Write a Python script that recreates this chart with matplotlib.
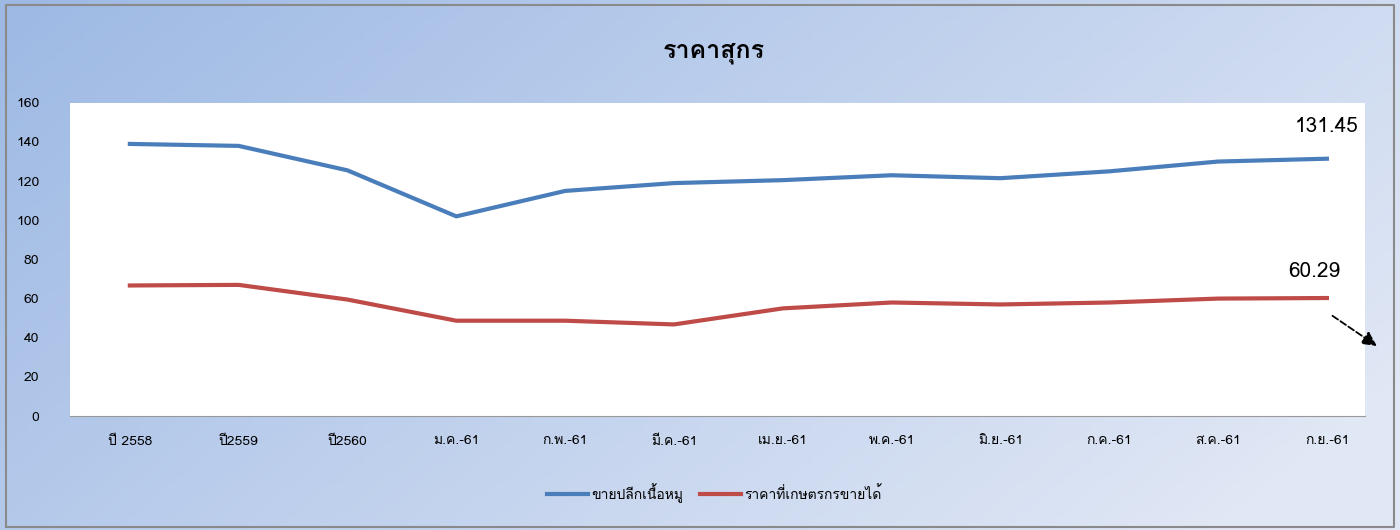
import matplotlib
matplotlib.use("Agg")
import matplotlib.pyplot as plt
import numpy as np
from matplotlib import font_manager
from matplotlib.ft2font import FT2Font

months = ["ปี 2558", "ปี2559", "ปี2560", "ม.ค.-61", "ก.พ.-61", "มี.ค.-61",
          "เม.ย.-61", "พ.ค.-61", "มิ.ย.-61", "ก.ค.-61", "ส.ค.-61", "ก.ย.-61"]
retail = [139, 138, 125.5, 102, 115, 119, 120.5, 123, 121.5, 125, 130, 131.45]
farm = [66.7, 67, 59.5, 48.7, 48.7, 46.8, 55, 58, 57, 58, 60, 60.29]
names = ["ขายปลีกเนื้อหมู", "ราคาที่เกษตรกรขายได้"]

# find a font that has thai glyphs
thai = None
for f in font_manager.fontManager.ttflist:
    try:
        if 0x0E01 in FT2Font(f.fname).get_charmap():
            thai = f.name
            break
    except Exception:
        pass
fams = [thai, "DejaVu Sans"] if thai else ["DejaVu Sans"]
plt.rcParams["font.family"] = fams

fig = plt.figure(figsize=(14, 5.3), dpi=100)

# gradient background
bg = fig.add_axes([0, 0, 1, 1], zorder=-1)
gx, gy = np.meshgrid(np.linspace(0, 1, 200), np.linspace(0, 1, 80))
t = np.clip(0.75 * gx + 0.35 * gy, 0, 1)
c0 = np.array([157, 185, 228]) / 255
c1 = np.array([224, 231, 245]) / 255
img = c0[None, None, :] * (1 - t[..., None]) + c1[None, None, :] * t[..., None]
bg.imshow(img, aspect="auto", extent=[0, 1, 0, 1])
bg.plot([0.004, 0.996, 0.996, 0.004, 0.004], [0.006, 0.006, 0.99, 0.99, 0.006],
        color="#8a8a8a", lw=1.5)
bg.set_xlim(0, 1)
bg.set_ylim(0, 1)
bg.axis("off")

ax = fig.add_axes([0.05, 0.215, 0.925, 0.591])
x = np.arange(len(months))
ax.plot(x, retail, color="#4A7EBB", lw=3, label=names[0])
ax.plot(x, farm, color="#BE4B48", lw=3, label=names[1])
ax.set_xlim(-0.55, len(months) - 0.65)
ax.set_ylim(0, 160)
ax.set_yticks(range(0, 161, 20))
ax.set_xticks(x)
ax.set_xticklabels(months, fontsize=10)
ax.tick_params(axis="y", length=0, pad=22, labelsize=10)
ax.tick_params(axis="x", length=0, pad=14)
for s in ["top", "right", "left"]:
    ax.spines[s].set_visible(False)
ax.spines["bottom"].set_color("#999999")

ax.text(x[-1], 148, "131.45", ha="center", va="center", fontsize=15)
ax.text(x[-1] - 0.12, 74, "60.29", ha="center", va="center", fontsize=15)
ax.annotate("", xy=(x[-1] + 0.48, 35), xytext=(x[-1] + 0.03, 52),
            annotation_clip=False,
            arrowprops=dict(arrowstyle="-|>", ls="--", color="black", lw=1.3,
                            mutation_scale=22))

fig.text(0.51, 0.9, "ราคาสุกร", ha="center", va="center", fontsize=18,
         fontweight="bold")
fig.legend(loc="center", bbox_to_anchor=(0.51, 0.07), ncol=2, frameon=False,
           fontsize=10, handlelength=3, columnspacing=1.2, handletextpad=0.2)

fig.savefig("out.png", dpi=100)
